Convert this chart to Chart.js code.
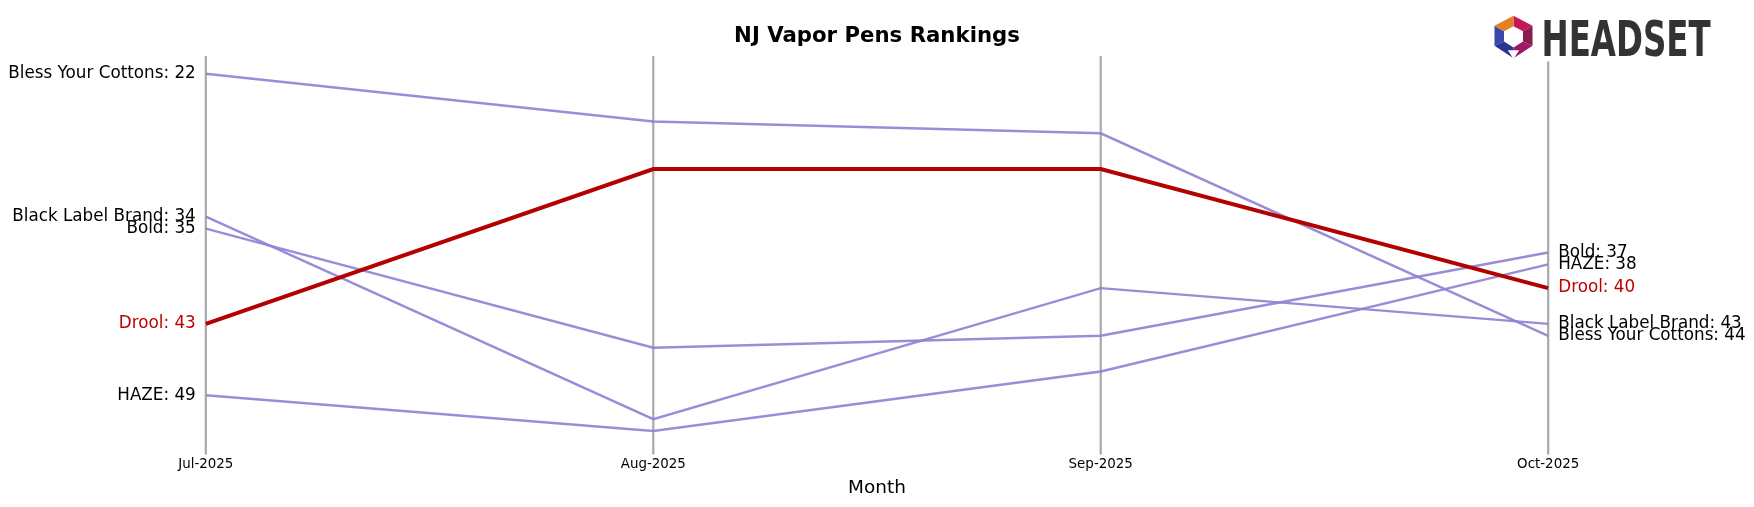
<!DOCTYPE html>
<html><head><meta charset="utf-8">
<script src="https://cdn.jsdelivr.net/npm/chart.js@4"></script>
<style>html,body{margin:0;padding:0;background:#fff;overflow:hidden}
canvas{display:block}</style>
</head><body><canvas id="c" width="1754" height="507" style="width:1754px;height:507px"></canvas>
<script>
const months = ["Jul-2025","Aug-2025","Sep-2025","Oct-2025"];
const brands = ["Bless Your Cottons","Drool","Bold","Black Label Brand","HAZE"];
const blessYourCottons = [22,26,27,44];
const drool = [43,30,30,40];
const bold = [35,45,44,37];
const blackLabel = [34,51,40,43];
const haze = [49,52,47,38];
const seriesData = [blessYourCottons,drool,bold,blackLabel,haze];
const highlight = "Drool";
const PURPLE = "rgba(145,128,212,0.9)", RED = "#b30000";
const S = 1754/1568;

const plugin = {
  id:'deco',
  beforeDatasetsDraw(ch){
    const {ctx,chartArea:a,scales:{x}} = ch;
    ctx.save();
    ctx.strokeStyle="#aaaaaa"; ctx.lineWidth=2*S;
    months.forEach((m,i)=>{const px=x.getPixelForValue(i);
      ctx.beginPath();ctx.moveTo(px,i==3?55*S:a.top);ctx.lineTo(px,a.bottom+6*S);ctx.stroke();});
    ctx.restore();
  },
  afterDraw(ch){
    const {ctx,chartArea:a,scales:{x,y}} = ch;
    ctx.save();
    ctx.textAlign="center";ctx.textBaseline="middle";
    ctx.fillStyle="#000";
    ctx.font=(12*S)+"px 'DejaVu Sans'";
    months.forEach((m,i)=>ctx.fillText(m,x.getPixelForValue(i),a.bottom+15*S));
    ctx.font=(16.5*S)+"px 'DejaVu Sans'";ctx.fillText("Month",784*S,a.bottom+36*S);
    ctx.font="bold "+(19*S)+"px 'DejaVu Sans'";ctx.fillText("NJ Vapor Pens Rankings",784*S,33*S);
    ctx.font=(15*S)+"px 'DejaVu Sans'";
    brands.forEach((b,i)=>{
      const d=seriesData[i];ctx.fillStyle=b===highlight?"#c00000":"#000";
      ctx.textAlign="right";ctx.fillText(b+": "+d[0],x.getPixelForValue(0)-9*S,y.getPixelForValue(d[0]));
      ctx.textAlign="left";ctx.fillText(b+": "+d[3],x.getPixelForValue(3)+9*S,y.getPixelForValue(d[3]));
    });
    ctx.scale(S,S);
    const cx=1353,cy=33;
    const cols=["#c2185b","#8e1b4f","#9c1a6a","#283593","#3949ab","#e67e22"];
    const pts=[[0,-19],[17,-10],[17,8],[0,19],[-17,8],[-17,-10]];
    for(let i=0;i<6;i++){const p=pts[i],q=pts[(i+1)%6];
      ctx.fillStyle=cols[i];ctx.beginPath();ctx.moveTo(cx+p[0],cy+p[1]);ctx.lineTo(cx+q[0],cy+q[1]);
      ctx.lineTo(cx+q[0]*0.5,cy+q[1]*0.5);ctx.lineTo(cx+p[0]*0.5,cy+p[1]*0.5);ctx.closePath();ctx.fill();}
    ctx.fillStyle="#fff";ctx.beginPath();ctx.moveTo(cx-5,cy+12);ctx.lineTo(cx+5,cy+12);ctx.lineTo(cx,cy+20);ctx.fill();
    ctx.fillStyle="#333";ctx.textAlign="left";ctx.textBaseline="alphabetic";
    ctx.translate(1378,50);ctx.scale(0.66,1);ctx.font="bold 44px 'DejaVu Sans'";ctx.fillText("HEADSET",0,0);
    ctx.restore();
  }
};

new Chart(document.getElementById('c'),{
  type:'line',
  data:{labels:months,datasets:brands.map((b,i)=>({label:b,data:seriesData[i],
    borderColor:b===highlight?RED:PURPLE,borderWidth:(b===highlight?3.5:2.2)*S,
    pointRadius:0,tension:0,fill:false,order:b===highlight?0:1}))},
  options:{responsive:false,animation:false,devicePixelRatio:1,
    layout:{padding:{left:184*S,right:184*S,top:50*S,bottom:53*S}},
    plugins:{legend:{display:false},tooltip:{enabled:false}},
    scales:{x:{display:false,offset:false},y:{display:false,reverse:true,min:20.5,max:53.4}}},
  plugins:[plugin]
});
</script></body></html>
